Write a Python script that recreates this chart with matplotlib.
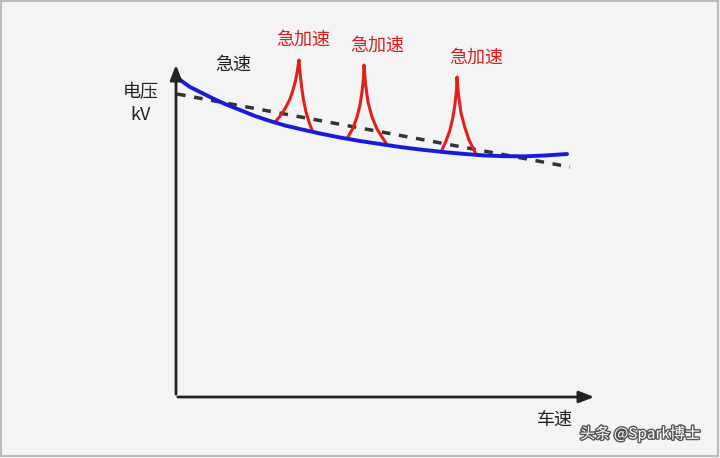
import matplotlib
matplotlib.use("Agg")
import matplotlib.pyplot as plt
import matplotlib.patheffects as pe

plt.rcParams['font.family'] = ['Noto Sans CJK SC', 'DejaVu Sans']

# pixel-space readings from the reference
blue_x = [176, 183, 190, 200, 212, 225, 240, 255, 270, 285, 300, 320, 340, 360,
          380, 400, 420, 443, 465, 485, 505, 525, 545, 567]
blue_y = [77, 82, 87, 92, 98, 104, 110, 116, 121, 125.5, 129, 133.5, 137.5, 141,
          144, 147, 149.5, 152, 154, 155.5, 156.2, 156.3, 155.5, 154]
dash_x = [177, 570]
dash_y = [94, 167]
spikes = [
    ([276, 281, 286, 290, 293, 295.5, 297.5, 299, 300, 301.5, 303.5, 306, 309, 312],
     [121, 115, 107, 99, 90, 81, 70, 60, 72, 86, 100, 112, 122, 130]),
    ([348, 353, 357, 360, 362, 363.5, 364, 365.5, 368, 372, 377, 382, 386],
     [137, 128, 117, 105, 92, 78, 65, 84, 102, 117, 129, 137, 143]),
    ([442, 446, 450, 453, 455, 456.5, 457, 458.5, 461, 465, 469, 473, 476],
     [150, 141, 130, 117, 104, 90, 77, 95, 113, 128, 140, 148, 154]),
]
spike_labels = [(303, 40), (377, 46), (476, 58)]

fig = plt.figure(figsize=(7.2, 4.58), dpi=100)
fig.patch.set_facecolor("#f4f4f4")
ax = fig.add_axes([0, 0, 1, 1])
ax.set_xlim(0, 720)
ax.set_ylim(458, 0)
ax.axis("off")
ax.add_patch(plt.Rectangle((1, 1), 717, 455, fill=False, edgecolor="#bbbbbb", lw=1.5))

# axes with arrows
ax.annotate("", xy=(176, 62), xytext=(176, 397),
            arrowprops=dict(arrowstyle="-|>,head_width=0.35,head_length=0.9", color="#222", lw=2))
ax.annotate("", xy=(597, 397), xytext=(175, 397),
            arrowprops=dict(arrowstyle="-|>,head_width=0.35,head_length=0.9", color="#222", lw=2))

ax.plot(dash_x, dash_y, ls=(0, (2.5, 2.5)), color="#333", lw=2.5)
for sx, sy in spikes:
    ax.plot(sx, sy, color="#e0201a", lw=2.2, solid_joinstyle="round")
ax.plot(blue_x, blue_y, color="#1a1adb", lw=2.8, solid_capstyle="round")

kw = dict(fontsize=13, ha="center", va="center", fontweight="medium")
ax.text(233, 65, "急速", color="#222", **kw)
for x, y in spike_labels:
    ax.text(x, y, "急加速", color="#d81e1e", **kw)
ax.text(141, 92, "电压", color="#222", **kw)
ax.text(141, 115, "kV", color="#222", **kw)
ax.text(555, 420, "车速", color="#222", **kw)
ax.text(640, 434, "头条 @Spark博士", fontsize=11, ha="center", va="center", color="white",
        path_effects=[pe.withStroke(linewidth=2, foreground="#555")])

fig.savefig("out.png", dpi=100, facecolor=fig.get_facecolor())
